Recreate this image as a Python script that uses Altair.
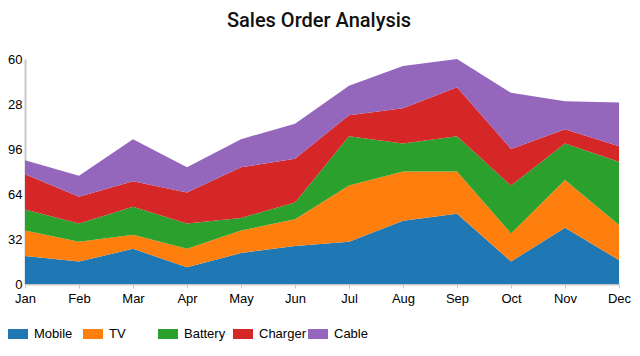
import altair as alt
import pandas as pd

months = ["Jan", "Feb", "Mar", "Apr", "May", "Jun", "Jul", "Aug", "Sep", "Oct", "Nov", "Dec"]
series = ["Mobile", "TV", "Battery", "Charger", "Cable"]
mobile = [20, 16, 25, 12, 22, 27, 30, 45, 50, 16, 40, 17]
tv = [18, 14, 10, 13, 16, 19, 40, 35, 30, 20, 34, 25]
battery = [15, 13, 20, 18, 9, 12, 35, 20, 25, 34, 26, 45]
charger = [25, 19, 18, 22, 36, 31, 15, 25, 35, 26, 10, 11]
cable = [10, 15, 30, 18, 20, 25, 21, 30, 20, 40, 20, 31]
colors = ["#1f77b4", "#ff7f0e", "#2ca02c", "#d62728", "#9467bd"]
y_ticks = [0, 32, 64, 96, 128, 160]

rows = []
for si, (name, vals) in enumerate(zip(series, [mobile, tv, battery, charger, cable])):
    for m, v in zip(months, vals):
        rows.append({"month": m, "series": name, "value": v, "order": si})
df = pd.DataFrame(rows)

FONT = "Liberation Sans"

chart = alt.Chart(df).mark_area(opacity=1).encode(
    x=alt.X(
        "month:N", sort=months,
        scale=alt.Scale(type="point", padding=0),
        axis=alt.Axis(title=None, labelAngle=0, labelFont=FONT, labelFontSize=13,
                      labelColor="#000", labelPadding=4, tickSize=4, tickColor="#c8c8c8",
                      domainColor="#c8c8c8", domainWidth=2, grid=False),
    ),
    y=alt.Y(
        "value:Q", stack="zero",
        scale=alt.Scale(domain=[0, 160], nice=False),
        axis=alt.Axis(title=None, values=y_ticks, grid=False, ticks=False,
                      labelExpr="datum.value >= 100 ? substring(datum.label, 1) : datum.label",
                      labelFont=FONT, labelFontSize=13, labelColor="#000", labelPadding=3,
                      domainColor="#c8c8c8", domainWidth=2),
    ),
    color=alt.Color(
        "series:N", sort=series,
        scale=alt.Scale(domain=series, range=colors),
        legend=alt.Legend(
            title=None, orient="none", legendX=-17, legendY=265,
            direction="horizontal", columns=5, gridAlign="all", columnPadding=2,
            symbolType="M-1,-0.5H1V0.5H-1Z", symbolSize=400, symbolStrokeWidth=0,
            symbolOpacity=1, labelFont=FONT, labelFontSize=13, labelColor="#000",
            labelOffset=6, padding=0,
        ),
    ),
    order=alt.Order("order:Q", sort="ascending"),
).properties(
    width=594,
    height=225,
    title=alt.TitleParams("Sales Order Analysis", font="Roboto", fontSize=20,
                          fontWeight=500, color="#111", anchor="middle", offset=22, dx=-3),
    autosize=alt.AutoSizeParams(type="none"),
    padding={"left": 17, "top": 51, "right": 13, "bottom": 66},
).configure_view(stroke=None)

chart.save("out.html", embed_options={"renderer": "svg", "actions": False})
